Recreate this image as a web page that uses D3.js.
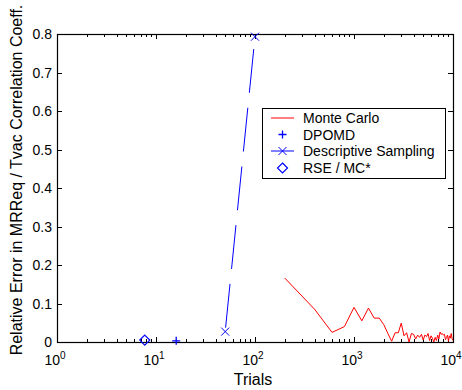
<!DOCTYPE html>
<html>
<head>
<meta charset="utf-8">
<script src="https://cdn.jsdelivr.net/npm/d3@7"></script>
<style>
  body { margin: 0; background: #fff; }
  text { font-family: "Liberation Sans", Arial, sans-serif; fill: #000; }
</style>
</head>
<body>
<div id="chart"></div>
<script>
// data
var mcTrials = [200, 400, 600, 800, 1000, 1200, 1400, 1600, 1800, 2000,
    2200, 2400, 2600, 2800, 3000, 3200, 3400, 3600, 3800, 4000,
    4200, 4400, 4600, 4800, 5000, 5200, 5400, 5600, 5800, 6000,
    6200, 6400, 6600, 6800, 7000, 7200, 7400, 7600, 7800, 8000,
    8200, 8400, 8600, 8800, 9000, 9200, 9400, 9600, 9800, 10000];
var mcError = [0.166, 0.085, 0.025, 0.040, 0.090, 0.055, 0.088, 0.062, 0.062, 0.045,
    0.022, 0.002, 0.024, 0.024, 0.049, 0.016, 0.024, 0.000, 0.022, 0.020,
    0.008, 0.018, 0.012, 0.020, 0.005, 0.018, 0.014, 0.022, 0.004, 0.016,
    0.010, 0.000, 0.012, 0.004, 0.018, 0.008, 0.026, 0.020, 0.022, 0.018,
    0.020, 0.006, 0.012, 0.018, 0.002, 0.016, 0.010, 0.022, 0.008, 0.004];
var dpTrials = [16];
var dpError = [0.003];
var dsTrials = [50, 100];
var dsError = [0.027, 0.793];
var rseTrials = [7.7];
var rseError = [0.005];

var yTicks = [0, 0.1, 0.2, 0.3, 0.4, 0.5, 0.6, 0.7, 0.8];
var xExps = [0, 1, 2, 3, 4];
var legendLabels = ["Monte Carlo", "DPOMD", "Descriptive Sampling", "RSE / MC*"];

var W = 462, H = 390;
var margin = {top: 34, right: 9, bottom: 48, left: 57};
var width = W - margin.left - margin.right, height = H - margin.top - margin.bottom;

var svg = d3.select("#chart").append("svg")
    .attr("width", W).attr("height", H);

var x = d3.scaleLog().domain([1, 10000]).range([0, width]);
var y = d3.scaleLinear().domain([0, 0.8]).range([height, 0]);

var g = svg.append("g").attr("transform", "translate(" + margin.left + "," + margin.top + ")");

// minor log ticks
var minor = [];
for (var e = 0; e < 4; e++)
    for (var k = 2; k < 10; k++) minor.push(k * Math.pow(10, e));

var tickG = g.append("g").attr("stroke", "#000").attr("stroke-width", 1);
minor.forEach(function (v) {
    var px = Math.round(x(v)) + 0.5;
    tickG.append("line").attr("x1", px).attr("x2", px).attr("y1", height).attr("y2", height - 3);
    tickG.append("line").attr("x1", px).attr("x2", px).attr("y1", 0).attr("y2", 3);
});
xExps.forEach(function (ex) {
    var px = Math.round(x(Math.pow(10, ex))) + 0.5;
    tickG.append("line").attr("x1", px).attr("x2", px).attr("y1", height).attr("y2", height - 5);
    tickG.append("line").attr("x1", px).attr("x2", px).attr("y1", 0).attr("y2", 5);
});
yTicks.forEach(function (v) {
    var py = Math.round(y(v)) + 0.5;
    tickG.append("line").attr("x1", 0).attr("x2", 5).attr("y1", py).attr("y2", py);
    tickG.append("line").attr("x1", width).attr("x2", width - 5).attr("y1", py).attr("y2", py);
});

// frame
g.append("rect").attr("x", 0.5).attr("y", 0.5).attr("width", width).attr("height", height)
    .attr("fill", "none").attr("stroke", "#000").attr("stroke-width", 1.2);

// tick labels
g.selectAll(".ylab").data(yTicks).enter().append("text")
    .attr("class", "ylab")
    .attr("x", -5).attr("y", function (d) { return y(d) + 5; })
    .attr("text-anchor", "end").style("font-size", "14px")
    .text(function (d) { return d === 0 ? "0" : d3.format(".1f")(d); });

xExps.forEach(function (ex) {
    var t = g.append("text")
        .attr("x", x(Math.pow(10, ex)) - 2).attr("y", height + 23)
        .attr("text-anchor", "middle").style("font-size", "14px");
    t.append("tspan").text("10");
    t.append("tspan").attr("dy", -6).style("font-size", "10px").text(ex);
});

// axis titles
g.append("text")
    .attr("x", width / 2 - 2).attr("y", height + 43)
    .attr("text-anchor", "middle").style("font-size", "16px")
    .text("Trials");
svg.append("text")
    .attr("transform", "translate(22,180) rotate(-90)")
    .attr("text-anchor", "middle").style("font-size", "16px")
    .text("Relative Error in MRReq / Tvac Correlation Coeff.");

// series
var line = d3.line().x(function (d) { return x(d[0]); }).y(function (d) { return y(d[1]); });

var mc = mcTrials.map(function (t, i) { return [t, mcError[i]]; });
g.append("path").datum(mc).attr("d", line)
    .attr("fill", "none").attr("stroke", "#ff0000").attr("stroke-width", 1);

var ds = dsTrials.map(function (t, i) { return [t, dsError[i]]; });
g.append("path").datum(ds).attr("d", line)
    .attr("fill", "none").attr("stroke", "#0000ff").attr("stroke-width", 1)
    .attr("stroke-dasharray", "44,15").attr("stroke-dashoffset", -4);

function drawX(sel, cx, cy) {
    sel.append("path")
        .attr("d", "M" + (cx - 4) + "," + (cy - 4) + "L" + (cx + 4) + "," + (cy + 4) +
            "M" + (cx - 4) + "," + (cy + 4) + "L" + (cx + 4) + "," + (cy - 4))
        .attr("stroke", "#0000ff").attr("fill", "none");
}
function drawPlus(sel, cx, cy) {
    sel.append("path")
        .attr("d", "M" + (cx - 4) + "," + cy + "L" + (cx + 4) + "," + cy +
            "M" + cx + "," + (cy - 4) + "L" + cx + "," + (cy + 4))
        .attr("stroke", "#0000ff").attr("stroke-width", 1.3).attr("fill", "none");
}
function drawDiamond(sel, cx, cy) {
    sel.append("path")
        .attr("d", "M" + cx + "," + (cy - 5) + "L" + (cx + 5) + "," + cy + "L" + cx + "," + (cy + 5) +
            "L" + (cx - 5) + "," + cy + "Z")
        .attr("stroke", "#0000ff").attr("stroke-width", 1.2).attr("fill", "none");
}

ds.forEach(function (d) { drawX(g, x(d[0]), y(d[1])); });
dpTrials.forEach(function (t, i) { drawPlus(g, x(t), y(dpError[i])); });
rseTrials.forEach(function (t, i) { drawDiamond(g, x(t), y(rseError[i])); });

// legend
var lg = svg.append("g").attr("transform", "translate(262,108)");
lg.append("rect").attr("x", 0.5).attr("y", 0.5).attr("width", 183).attr("height", 70)
    .attr("fill", "#fff").attr("stroke", "#000").attr("stroke-width", 1);
var rowY = [10, 26.5, 43, 60];
legendLabels.forEach(function (lab, i) {
    var ry = rowY[i];
    if (i === 0)
        lg.append("line").attr("x1", 9).attr("x2", 32).attr("y1", ry).attr("y2", ry)
            .attr("stroke", "#ff0000");
    if (i === 1) drawPlus(lg, 20.5, ry);
    if (i === 2) {
        lg.append("line").attr("x1", 9).attr("x2", 32).attr("y1", ry).attr("y2", ry)
            .attr("stroke", "#0000ff");
        drawX(lg, 20.5, ry);
    }
    if (i === 3) drawDiamond(lg, 20.5, ry);
    lg.append("text").attr("x", 41).attr("y", ry + 5)
        .style("font-size", "14px").text(lab);
});
</script>
</body>
</html>
